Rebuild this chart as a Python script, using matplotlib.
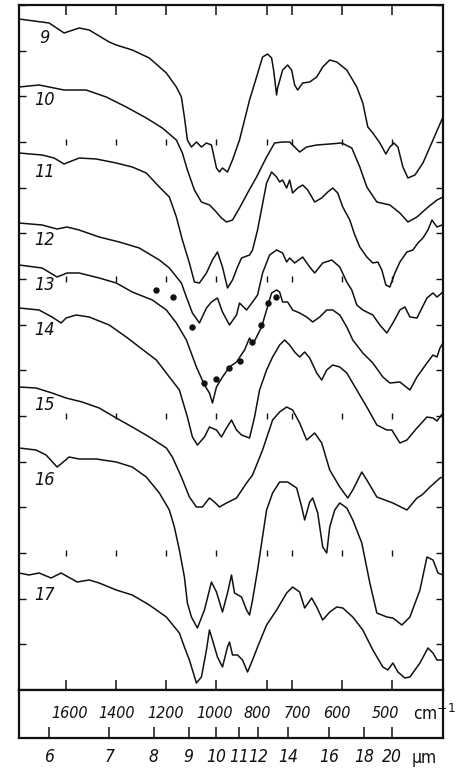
import numpy as np
import matplotlib
matplotlib.use('Agg')
import matplotlib.pyplot as plt
from matplotlib import font_manager

names = {f.name for f in font_manager.fontManager.ttflist}
FONT = 'Liberation Sans Narrow' if 'Liberation Sans Narrow' in names else 'DejaVu Sans'

# ---------------- data (wavenumber cm^-1, recorder deflection) ----------------
wn_9 = [1788,1668,1608,1548,1508,1428,1400,1336,1268,1200,1160,1140,1128,1116,1100,1080,1060,1040,1020,1000,988,976,956,936,908,868,840,816,796,780,772,760,756,736,716,700,694,688,678,664,650,638,624,610,590,570,558,548,538,524,512,504,496,488,478,468,454,438,418,398]
y_9 = [671,667,657,662,660,648,645,640,632,617,603,593,573,550,543,548,543,547,545,522,518,522,518,530,550,590,613,633,636,632,620,595,602,620,625,620,605,600,607,608,613,623,630,628,620,603,587,563,557,547,536,543,547,543,523,512,515,527,550,573]

wn_10 = [1788,1708,1608,1520,1440,1360,1280,1216,1160,1136,1116,1088,1060,1028,1008,980,960,936,908,876,840,800,768,736,708,694,684,670,650,624,600,580,564,550,530,504,484,468,450,430,410,398]
y_10 = [603,605,600,600,593,583,572,562,550,537,520,500,488,485,480,472,468,470,482,497,513,533,547,548,548,543,538,543,545,546,547,542,523,503,488,485,477,468,473,482,490,493]

wn_11 = [1788,1696,1648,1608,1588,1548,1480,1400,1336,1280,1228,1188,1160,1136,1108,1088,1068,1040,1016,996,976,956,936,916,900,868,856,836,800,780,760,748,736,720,708,698,688,678,668,654,640,628,618,608,598,584,574,564,550,538,528,520,512,504,494,484,470,458,448,438,428,420,410,400]
y_11 = [537,535,532,526,528,532,531,527,523,517,503,493,473,450,427,408,407,417,430,438,423,402,410,423,432,435,440,460,507,518,513,508,510,502,510,497,502,505,500,488,492,498,502,497,483,470,455,443,433,427,428,420,405,403,417,428,438,440,447,452,460,470,463,465]

wn_12 = [1788,1696,1636,1596,1548,1468,1388,1308,1228,1188,1140,1120,1096,1068,1040,1020,996,976,948,920,908,880,856,836,816,788,760,736,720,708,694,678,664,654,638,620,604,590,580,570,558,538,524,510,498,484,474,464,450,430,418,410,398]
y_12 = [467,465,461,463,460,453,448,442,430,422,407,393,377,367,382,388,392,378,365,375,387,380,388,395,417,435,440,437,428,432,427,433,423,417,427,430,423,408,400,385,380,375,365,357,367,380,383,373,372,392,397,393,398]

wn_13 = [1788,1696,1636,1596,1548,1468,1400,1336,1256,1200,1160,1120,1080,1048,1028,1016,1000,976,948,920,888,868,856,840,820,800,780,760,748,736,716,698,684,670,658,644,630,618,604,590,578,558,538,518,504,484,464,450,430,418,410,404,398]
y_13 = [425,422,413,417,417,412,407,398,390,380,367,350,323,305,297,287,303,313,323,328,340,352,345,353,363,380,397,400,398,388,388,380,377,373,368,373,380,380,375,363,350,337,327,313,307,308,300,313,327,335,333,342,347]

# computed points drawn over spectrum 13
wn_dots = [1240,1172,1096,1048,1000,948,908,860,824,796,764]
y_dots = [400,393,363,307,311,322,329,348,365,387,393]

wn_14 = [1788,1708,1656,1620,1600,1560,1508,1428,1360,1308,1240,1188,1148,1116,1096,1076,1048,1028,1000,980,960,940,920,900,868,848,828,800,776,748,728,708,694,684,674,664,650,640,630,618,604,590,570,550,530,510,500,484,470,450,430,418,410,398]
y_14 = [382,380,373,367,372,375,373,365,353,343,330,313,300,273,253,245,253,263,260,253,262,270,260,255,252,273,300,320,333,345,350,345,338,333,338,332,317,310,320,325,323,317,300,283,265,260,260,247,250,262,273,272,269,277]

wn_15 = [1788,1720,1656,1600,1536,1468,1400,1336,1268,1200,1176,1140,1108,1080,1056,1028,1008,988,960,920,880,856,816,776,748,720,698,684,670,654,640,624,604,588,578,560,550,530,498,470,450,440,424,404,398]
y_15 = [303,302,297,292,288,282,272,263,253,242,233,213,193,183,183,192,188,183,187,192,207,215,240,270,278,283,280,267,250,257,247,220,203,192,200,218,210,193,187,180,192,195,203,212,213]

wn_16 = [1788,1720,1680,1636,1616,1588,1548,1480,1400,1336,1280,1228,1188,1168,1148,1128,1116,1100,1076,1048,1020,1000,976,956,940,928,900,880,868,856,836,800,776,748,716,690,680,674,664,658,648,638,630,624,614,604,590,578,560,544,530,510,498,480,464,444,430,418,408,398]
y_16 = [242,240,235,223,227,233,231,231,228,223,213,197,180,163,140,113,87,73,62,80,108,98,78,97,115,97,93,80,75,90,120,180,197,208,208,202,183,170,188,192,177,143,137,163,180,187,182,170,147,107,77,73,72,65,73,100,133,130,117,115]

wn_17 = [1788,1748,1708,1660,1620,1556,1508,1468,1400,1336,1268,1200,1148,1128,1108,1080,1060,1040,1028,1016,996,976,956,948,936,916,896,876,856,836,800,760,720,698,684,674,660,650,638,624,610,598,578,558,538,518,508,498,488,474,464,444,428,418,410,398]
y_17 = [117,115,117,112,117,108,110,107,100,95,85,73,57,43,30,7,13,40,60,50,33,23,43,48,35,35,30,18,30,43,65,80,97,103,98,82,92,83,70,78,83,82,73,60,40,23,20,27,18,12,13,27,42,37,30,30]

curve_labels = ['9', '10', '11', '12', '13', '14', '15', '16', '17']
label_y = [652, 590, 518, 450, 405, 360, 285, 210, 95]

cm_ticks = [1600, 1400, 1200, 1000, 800, 700, 600, 500]
cm_labels = ['1600', '1400', '1200', '1000', '800', '700', '600', '500']
um_values = [6, 7, 8, 9, 10, 11, 12, 14, 16, 18, 20]

# label anchor positions (layout), as printed on the original scale strip
cm_label_pos = [1588, 1400, 1204, 1008, 836, 688, 610, 512]

# ---------------- axis scale (linear in wavenumber, 2x expanded below 700) ----
def fwd(w):
    w = np.asarray(w, dtype=float)
    return np.where(w >= 700, w, 2 * w - 700)

def inv(u):
    u = np.asarray(u, dtype=float)
    return np.where(u >= 700, u, (u + 700) / 2)

W, H = 460, 768
fig = plt.figure(figsize=(W / 100, H / 100), dpi=100)
fig.patch.set_facecolor('white')

L, R = 19 / W, 443 / W
ax = fig.add_axes([L, (H - 690) / H, R - L, (690 - 5) / H])
box = fig.add_axes([L, (H - 738) / H, R - L, (738 - 690) / H])

for a in (ax, box):
    a.set_xscale('function', functions=(fwd, inv))
    a.set_xlim(1788, 398)
YTOP = 685
DIV = YTOP / 15
ax.set_ylim(0, YTOP)

lw = 1.1
col = '#111111'
FS = 11.5
txt = dict(family=FONT, fontstretch='condensed', color=col)

series = [(wn_9, y_9), (wn_10, y_10), (wn_11, y_11), (wn_12, y_12), (wn_13, y_13),
          (wn_14, y_14), (wn_15, y_15), (wn_16, y_16), (wn_17, y_17)]
for w, y in series:
    ax.plot(w, y, color=col, lw=lw, solid_joinstyle='round')

ax.plot(wn_dots, y_dots, 'o', color=col, ms=3.6, zorder=5)

for lab, ly in zip(curve_labels, label_y):
    ax.text(1688, ly, lab, ha='center', va='center', fontsize=13,
            style='italic', **txt)

# interior tick rows
for k in (3, 6, 9, 12):
    ax.plot(cm_ticks, [k * DIV] * len(cm_ticks), linestyle='none', marker='|',
            ms=5, mew=1.0, color=col)

ax.set_xticks(cm_ticks)
ax.set_xticklabels([])
ax.xaxis.set_minor_locator(matplotlib.ticker.NullLocator())
ax.set_yticks(np.arange(0, 16) * DIV)
ax.set_yticklabels([])
ax.tick_params(axis='x', which='both', direction='in', top=True, bottom=True,
               length=7, width=1.1, color=col, labelbottom=False)
ax.tick_params(axis='y', direction='in', left=True, right=True, length=5,
               width=1.0, color=col)
for s in ax.spines.values():
    s.set_linewidth(1.6)
    s.set_color(col)

# lower scale box
box.set_ylim(0, 1)
box.set_yticks([])
um_pos = [10000.0 / u for u in um_values]
box.set_xticks(um_pos)
box.set_xticklabels([str(u) for u in um_values])
for tl in box.get_xticklabels():
    tl.set_fontsize(12.5)
    tl.set_style('italic')
    tl.set_family(FONT)
    tl.set_fontstretch('condensed')
    tl.set_color(col)
box.xaxis.set_minor_locator(matplotlib.ticker.NullLocator())
box.tick_params(axis='x', direction='in', length=8, width=1.1, pad=7, color=col)
for s in box.spines.values():
    s.set_linewidth(1.6)
    s.set_color(col)
for xpos, lab in zip(cm_label_pos, cm_labels):
    box.text(xpos, 0.52, lab, ha='center', va='center', fontsize=FS,
             style='italic', **txt)
box.text(458, 0.5, 'cm$^{-1}$', ha='left', va='center', fontsize=12.5,
         clip_on=False, **txt)
fig.text(424 / W, (H - 758) / H, 'µm', ha='center', va='center', fontsize=12.5,
         **txt)

fig.savefig('out.png', dpi=100, facecolor='white')
